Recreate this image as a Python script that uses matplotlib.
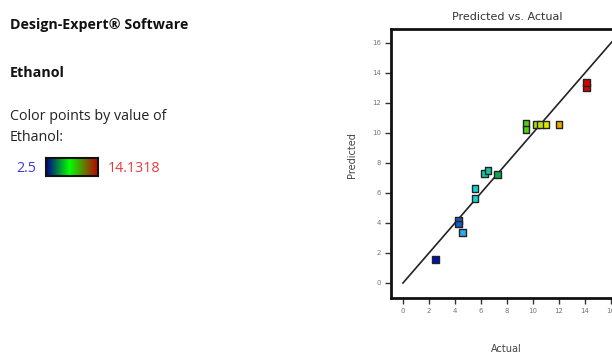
import numpy as np
import matplotlib
matplotlib.use('Agg')
import matplotlib.pyplot as plt
from matplotlib.colors import LinearSegmentedColormap

# Ethanol response: actual vs predicted
actual = [2.5, 4.28, 4.28, 4.59, 5.54, 5.54, 6.28, 6.54, 7.25,
          9.46, 9.46, 10.28, 10.6, 11.0, 12.0, 14.13, 14.13]
predicted = [1.58, 4.15, 3.93, 3.38, 6.31, 5.64, 7.29, 7.51, 7.25,
             10.65, 10.25, 10.58, 10.58, 10.58, 10.58, 13.05, 13.35]
color_min, color_max = 2.5, 14.1318
ticks = [0, 2, 4, 6, 8, 10, 12, 14, 16]

point_cmap = LinearSegmentedColormap.from_list('pts', [
    (0.0, '#0010b8'), (0.15, '#1a4ec0'), (0.18, '#30b8f0'),
    (0.27, '#10d8d0'), (0.34, '#10c8a0'), (0.42, '#10a040'),
    (0.6, '#50d010'), (0.68, '#b8e000'), (0.74, '#e8e800'),
    (0.83, '#e8a000'), (1.0, '#d80000')])
bar_cmap = LinearSegmentedColormap.from_list('bar', [
    (0.0, '#00008c'), (0.45, '#00ff00'), (1.0, '#c00000')])

W, H = 612, 355
fig = plt.figure(figsize=(W / 100, H / 100), dpi=100)
fig.patch.set_facecolor('white')

# left-hand legend panel
fs = 10.3
fig.text(10 / W, 1 - 25 / H, 'Design-Expert\u00ae Software', fontsize=fs,
         fontweight='bold', family='Open Sans', va='center', color='#111111')
fig.text(10 / W, 1 - 73 / H, 'Ethanol', fontsize=fs, fontweight='bold',
         family='Open Sans', va='center', color='#111111')
fig.text(10 / W, 1 - 117 / H, 'Color points by value of', fontsize=fs,
         family='Open Sans', va='center', color='#222222')
fig.text(10 / W, 1 - 138 / H, 'Ethanol:', fontsize=fs,
         family='Open Sans', va='center', color='#222222')
fig.text(16 / W, 1 - 168 / H, '2.5', fontsize=fs, family='Open Sans',
         va='center', color='#3a3ae0')
fig.text(108 / W, 1 - 168 / H, '14.1318', fontsize=fs, family='Open Sans',
         va='center', color='#e83a3a')
cax = fig.add_axes([46 / W, 1 - 176 / H, 52 / W, 18 / H])
cax.imshow(np.linspace(0, 1, 200)[None, :], aspect='auto', cmap=bar_cmap,
           extent=[0, 1, 0, 1])
cax.set_xticks([])
cax.set_yticks([])
for s in cax.spines.values():
    s.set_linewidth(1.5)
    s.set_color('#111111')

# scatter panel (extends past the right edge)
x0, x1, y0, y1 = 391, 625, 298, 29
ax = fig.add_axes([x0 / W, 1 - y0 / H, (x1 - x0) / W, (y0 - y1) / H])
ax.set_xlim(-0.92, 17.08)
ax.set_ylim(-1.0, 16.93)
ax.plot([0, 17.5], [0, 17.5], color='#222222', lw=1.2, zorder=1)
ax.scatter(actual, predicted, c=actual, cmap=point_cmap, vmin=color_min,
           vmax=color_max, marker='s', s=24, edgecolors='#222222',
           linewidths=1.0, zorder=3)
ax.set_xticks(ticks)
ax.set_yticks(ticks)
ax.tick_params(direction='out', length=4, width=1, color='#333333',
               labelsize=5, labelcolor='#777777', pad=3)
for s in ax.spines.values():
    s.set_linewidth(2)
    s.set_color('#111111')

fig.text(507 / W, 1 - 17 / H, 'Predicted vs. Actual', fontsize=8,
         ha='center', va='center', color='#333333')
fig.text(506 / W, 1 - 349 / H, 'Actual', fontsize=7, ha='center',
         va='center', color='#444444')
fig.text(352 / W, 1 - 155 / H, 'Predicted', fontsize=7, ha='center',
         va='center', rotation=90, color='#444444')

fig.savefig('out.png', dpi=100)
